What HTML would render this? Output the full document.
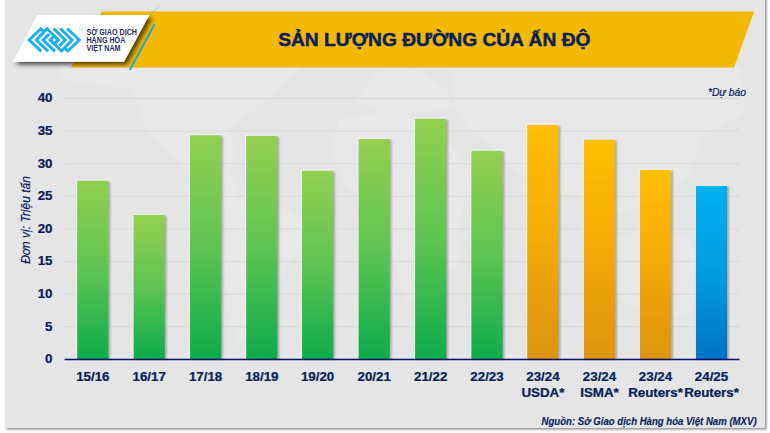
<!DOCTYPE html>
<html><head><meta charset="utf-8">
<style>
html,body{margin:0;padding:0;background:#fff;width:770px;height:433px;overflow:hidden}
svg{display:block;font-family:"Liberation Sans",sans-serif}
.ax{font-size:12px;font-weight:bold;fill:#0b1f5c;stroke:#0b1f5c;stroke-width:0.25px}
</style></head><body>
<svg width="770" height="433" viewBox="0 0 770 433">
<defs>
<linearGradient id="g" x1="0" y1="0" x2="0" y2="1" gradientUnits="objectBoundingBox"><stop offset="0" stop-color="#92d050"/><stop offset="0.5" stop-color="#5ec452"/><stop offset="1" stop-color="#0cac4a"/></linearGradient>
<linearGradient id="o" x1="0" y1="0" x2="0" y2="1"><stop offset="0" stop-color="#ffc000"/><stop offset="0.5" stop-color="#f2aa06"/><stop offset="1" stop-color="#dc9410"/></linearGradient>
<linearGradient id="b" x1="0" y1="0" x2="0" y2="1"><stop offset="0" stop-color="#00b0f0"/><stop offset="0.5" stop-color="#009ce2"/><stop offset="1" stop-color="#0072c4"/></linearGradient>
<filter id="blur05" x="-20%" y="-5%" width="140%" height="110%"><feGaussianBlur stdDeviation="0.5"/></filter>
<filter id="mapblur" x="-10%" y="-10%" width="120%" height="120%"><feGaussianBlur stdDeviation="1.5"/></filter>
<filter id="blur1" x="-20%" y="-5%" width="140%" height="110%"><feGaussianBlur stdDeviation="1"/></filter>
<filter id="sh" x="-10%" y="-20%" width="130%" height="150%"><feDropShadow dx="3" dy="3" stdDeviation="2.2" flood-color="#000" flood-opacity="0.65"/></filter>
<filter id="cardsh" x="-5%" y="-5%" width="110%" height="110%"><feDropShadow dx="1.5" dy="1.5" stdDeviation="1" flood-color="#000" flood-opacity="0.45"/></filter>
</defs>
<rect x="5" y="-5" width="760" height="433" fill="#e5e5e5" filter="url(#cardsh)"/>
<g fill="#fff" opacity="0.15" filter="url(#mapblur)">
<path d="M60,80 L130,88 L136,100 L144,126 L165,150 L193,175 L215,195 L232,205 L240,190 L230,172 L236,150 L228,129 L256,108 L270,94 L300,70 L300,68 L60,68 Z"/>
<path d="M222,200 L262,196 L305,222 L300,250 L270,290 L250,330 L240,345 L230,320 L224,270 L218,235 Z"/>
<path d="M340,118 L400,112 L430,130 L455,150 L470,175 L458,230 L440,270 L420,300 L405,300 L392,250 L382,205 L345,185 L330,150 Z"/>
<path d="M447,236 L458,240 L460,262 L450,272 L446,255 Z"/>
<path d="M355,100 L380,70 L420,68 L450,95 L452,108 L420,112 L380,112 Z"/>
<path d="M450,68 L740,68 L745,110 L700,140 L690,175 L650,200 L620,215 L590,200 L555,190 L520,175 L495,150 L470,130 L455,110 Z"/>
<path d="M605,245 L650,225 L690,240 L705,275 L690,315 L655,320 L620,300 L600,275 Z"/>
</g>
<!-- header banner -->
<polygon points="101.8,11.5 754,11.5 734,67.5 71,67.5" fill="#f3b800"/>
<!-- logo plate -->
<polygon points="37.5,15 149.3,15 124,61.7 12.9,61.7" fill="#fff" filter="url(#sh)"/>
<line x1="158.5" y1="7" x2="149" y2="16" stroke="#5cc4ee" stroke-width="0.6"/>
<line x1="154.7" y1="24" x2="129.8" y2="70" stroke="#1aa6e4" stroke-width="2"/>
<g transform="translate(27.41,26.7) scale(0.07154)" fill="none" stroke="#18b0ec" stroke-width="40" stroke-linecap="butt" stroke-linejoin="miter">
<polyline points="195,345 25,185 185,30 228,73"/>
<polyline points="290,345 125,185 275,30 430,185 375,240 320,185 348,157"/>
<polyline points="385,345 220,185 303,102"/>
<polyline points="555,25 725,185 565,340 522,297"/>
<polyline points="460,25 625,185 475,340 320,185 375,130 430,185 402,213"/>
<polyline points="365,25 530,185 447,268"/>
</g>
<circle cx="54.2" cy="39.9" r="1.3" fill="#fff"/>
<text x="78.5" y="31" font-size="3" fill="#7cc8ea">TM</text>
<text transform="translate(86.4,34.5) scale(0.895,1.18)" font-size="8" font-weight="bold" fill="#2e2b62">SƠ GIAO DICH</text>
<text transform="translate(86.4,42.7) scale(0.895,1.18)" font-size="8" font-weight="bold" fill="#2e2b62">HANG HOA</text>
<text transform="translate(86.4,50.5) scale(0.895,1.18)" font-size="8" font-weight="bold" fill="#2e2b62">VIET NAM</text>
<g stroke="#2e2b62" stroke-width="0.7" fill="none"><path d="M93,27.3 q1.1,-0.5 1.1,0.3 q0,0.4 -0.5,0.7"/><path d="M93.5,35.6 l1.3,1"/><path d="M116.8,36.6 l1.3,-1"/><path d="M94.6,44.6 l0.9,-0.8 l0.9,0.8"/></g>
<g fill="#2e2b62"><circle cx="125.6" cy="36" r="0.5"/><circle cx="95.6" cy="51.8" r="0.5"/></g>
<text x="278.2" y="46" font-size="19.2" font-weight="bold" fill="#0b1f5c" stroke="#0b1f5c" stroke-width="0.5">SẢN LƯỢNG ĐƯỜNG CỦA ẤN ĐỘ</text>
<text transform="translate(746,95.8) scale(0.94,1)" text-anchor="end" font-size="11" font-style="italic" fill="#0b1f5c" stroke="#0b1f5c" stroke-width="0.25">*Dự báo</text>
<line x1="64.6" y1="98.5" x2="739.5" y2="98.5" stroke="#d9d9d9" stroke-width="1"/><line x1="64.6" y1="131.1" x2="739.5" y2="131.1" stroke="#d9d9d9" stroke-width="1"/><line x1="64.6" y1="163.7" x2="739.5" y2="163.7" stroke="#d9d9d9" stroke-width="1"/><line x1="64.6" y1="196.3" x2="739.5" y2="196.3" stroke="#d9d9d9" stroke-width="1"/><line x1="64.6" y1="228.9" x2="739.5" y2="228.9" stroke="#d9d9d9" stroke-width="1"/><line x1="64.6" y1="261.5" x2="739.5" y2="261.5" stroke="#d9d9d9" stroke-width="1"/><line x1="64.6" y1="294.1" x2="739.5" y2="294.1" stroke="#d9d9d9" stroke-width="1"/><line x1="64.6" y1="326.7" x2="739.5" y2="326.7" stroke="#d9d9d9" stroke-width="1"/>
<rect x="76.2" y="179.5" width="32.7" height="179.9" fill="#fff" opacity="0.45" filter="url(#blur05)"/><rect x="78.8" y="181.8" width="31.2" height="177.6" fill="#000" opacity="0.3" filter="url(#blur1)"/><rect x="77.2" y="180.8" width="31.2" height="178.6" fill="url(#g)"/><rect x="132.6" y="213.7" width="32.7" height="145.7" fill="#fff" opacity="0.45" filter="url(#blur05)"/><rect x="135.2" y="216.0" width="31.2" height="143.4" fill="#000" opacity="0.3" filter="url(#blur1)"/><rect x="133.6" y="215.0" width="31.2" height="144.4" fill="url(#g)"/><rect x="189.0" y="134.1" width="32.7" height="225.3" fill="#fff" opacity="0.45" filter="url(#blur05)"/><rect x="191.6" y="136.4" width="31.2" height="223.0" fill="#000" opacity="0.3" filter="url(#blur1)"/><rect x="190.0" y="135.4" width="31.2" height="224.0" fill="url(#g)"/><rect x="245.2" y="134.7" width="32.7" height="224.7" fill="#fff" opacity="0.45" filter="url(#blur05)"/><rect x="247.8" y="137.0" width="31.2" height="222.4" fill="#000" opacity="0.3" filter="url(#blur1)"/><rect x="246.2" y="136.0" width="31.2" height="223.4" fill="url(#g)"/><rect x="301.0" y="169.6" width="32.7" height="189.8" fill="#fff" opacity="0.45" filter="url(#blur05)"/><rect x="303.6" y="171.9" width="31.2" height="187.5" fill="#000" opacity="0.3" filter="url(#blur1)"/><rect x="302.0" y="170.9" width="31.2" height="188.5" fill="url(#g)"/><rect x="357.6" y="137.8" width="32.7" height="221.6" fill="#fff" opacity="0.45" filter="url(#blur05)"/><rect x="360.2" y="140.1" width="31.2" height="219.3" fill="#000" opacity="0.3" filter="url(#blur1)"/><rect x="358.6" y="139.1" width="31.2" height="220.3" fill="url(#g)"/><rect x="414.1" y="117.6" width="32.7" height="241.8" fill="#fff" opacity="0.45" filter="url(#blur05)"/><rect x="416.7" y="119.9" width="31.2" height="239.5" fill="#000" opacity="0.3" filter="url(#blur1)"/><rect x="415.1" y="118.9" width="31.2" height="240.5" fill="url(#g)"/><rect x="470.4" y="149.6" width="32.7" height="209.8" fill="#fff" opacity="0.45" filter="url(#blur05)"/><rect x="473.0" y="151.9" width="31.2" height="207.5" fill="#000" opacity="0.3" filter="url(#blur1)"/><rect x="471.4" y="150.9" width="31.2" height="208.5" fill="url(#g)"/><rect x="526.3" y="123.6" width="32.7" height="235.8" fill="#fff" opacity="0.45" filter="url(#blur05)"/><rect x="528.9" y="125.9" width="31.2" height="233.5" fill="#000" opacity="0.3" filter="url(#blur1)"/><rect x="527.3" y="124.9" width="31.2" height="234.5" fill="url(#o)"/><rect x="582.9" y="138.4" width="32.7" height="221.0" fill="#fff" opacity="0.45" filter="url(#blur05)"/><rect x="585.5" y="140.7" width="31.2" height="218.7" fill="#000" opacity="0.3" filter="url(#blur1)"/><rect x="583.9" y="139.7" width="31.2" height="219.7" fill="url(#o)"/><rect x="638.9" y="168.7" width="32.7" height="190.7" fill="#fff" opacity="0.45" filter="url(#blur05)"/><rect x="641.5" y="171.0" width="31.2" height="188.4" fill="#000" opacity="0.3" filter="url(#blur1)"/><rect x="639.9" y="170.0" width="31.2" height="189.4" fill="url(#o)"/><rect x="694.9" y="184.7" width="32.7" height="174.7" fill="#fff" opacity="0.45" filter="url(#blur05)"/><rect x="697.5" y="187.0" width="31.2" height="172.4" fill="#000" opacity="0.3" filter="url(#blur1)"/><rect x="695.9" y="186.0" width="31.2" height="173.4" fill="url(#b)"/>
<rect x="64.6" y="360.3" width="675" height="1.2" fill="#fff" opacity="0.5"/><rect x="64.6" y="358.7" width="675" height="1.6" fill="#0a1466"/>
<text transform="translate(52.5,102.3) scale(1.11,1)" text-anchor="end" class="ax">40</text><text transform="translate(52.5,134.9) scale(1.11,1)" text-anchor="end" class="ax">35</text><text transform="translate(52.5,167.5) scale(1.11,1)" text-anchor="end" class="ax">30</text><text transform="translate(52.5,200.1) scale(1.11,1)" text-anchor="end" class="ax">25</text><text transform="translate(52.5,232.7) scale(1.11,1)" text-anchor="end" class="ax">20</text><text transform="translate(52.5,265.3) scale(1.11,1)" text-anchor="end" class="ax">15</text><text transform="translate(52.5,297.9) scale(1.11,1)" text-anchor="end" class="ax">10</text><text transform="translate(52.5,330.5) scale(1.11,1)" text-anchor="end" class="ax">5</text><text transform="translate(52.5,363.1) scale(1.11,1)" text-anchor="end" class="ax">0</text>
<text transform="translate(92.8,381) scale(1.11,1)" text-anchor="middle" class="ax">15/16</text><text transform="translate(149.2,381) scale(1.11,1)" text-anchor="middle" class="ax">16/17</text><text transform="translate(205.6,381) scale(1.11,1)" text-anchor="middle" class="ax">17/18</text><text transform="translate(261.8,381) scale(1.11,1)" text-anchor="middle" class="ax">18/19</text><text transform="translate(317.6,381) scale(1.11,1)" text-anchor="middle" class="ax">19/20</text><text transform="translate(374.2,381) scale(1.11,1)" text-anchor="middle" class="ax">20/21</text><text transform="translate(430.7,381) scale(1.11,1)" text-anchor="middle" class="ax">21/22</text><text transform="translate(487.0,381) scale(1.11,1)" text-anchor="middle" class="ax">22/23</text><text transform="translate(542.9,381) scale(1.11,1)" text-anchor="middle" class="ax">23/24</text><text transform="translate(542.9,397.2) scale(1.11,1)" text-anchor="middle" class="ax">USDA*</text><text transform="translate(599.5,381) scale(1.11,1)" text-anchor="middle" class="ax">23/24</text><text transform="translate(599.5,397.2) scale(1.11,1)" text-anchor="middle" class="ax">ISMA*</text><text transform="translate(655.5,381) scale(1.11,1)" text-anchor="middle" class="ax">23/24</text><text transform="translate(655.5,397.2) scale(1.11,1)" text-anchor="middle" class="ax">Reuters*</text><text transform="translate(711.5,381) scale(1.11,1)" text-anchor="middle" class="ax">24/25</text><text transform="translate(711.5,397.2) scale(1.11,1)" text-anchor="middle" class="ax">Reuters*</text>
<text transform="translate(30,220) rotate(-90)" text-anchor="middle" font-size="12" font-style="italic" fill="#0b1f5c" stroke="#0b1f5c" stroke-width="0.2">Đơn vị: Triệu tấn</text>
<text transform="translate(756.6,425.3) scale(0.96,1)" text-anchor="end" font-size="10" font-style="italic" font-weight="bold" fill="#0b1f5c" stroke="#0b1f5c" stroke-width="0.15">Nguồn: Sở Giao dịch Hàng hóa Việt Nam (MXV)</text>
</svg>
</body></html>
